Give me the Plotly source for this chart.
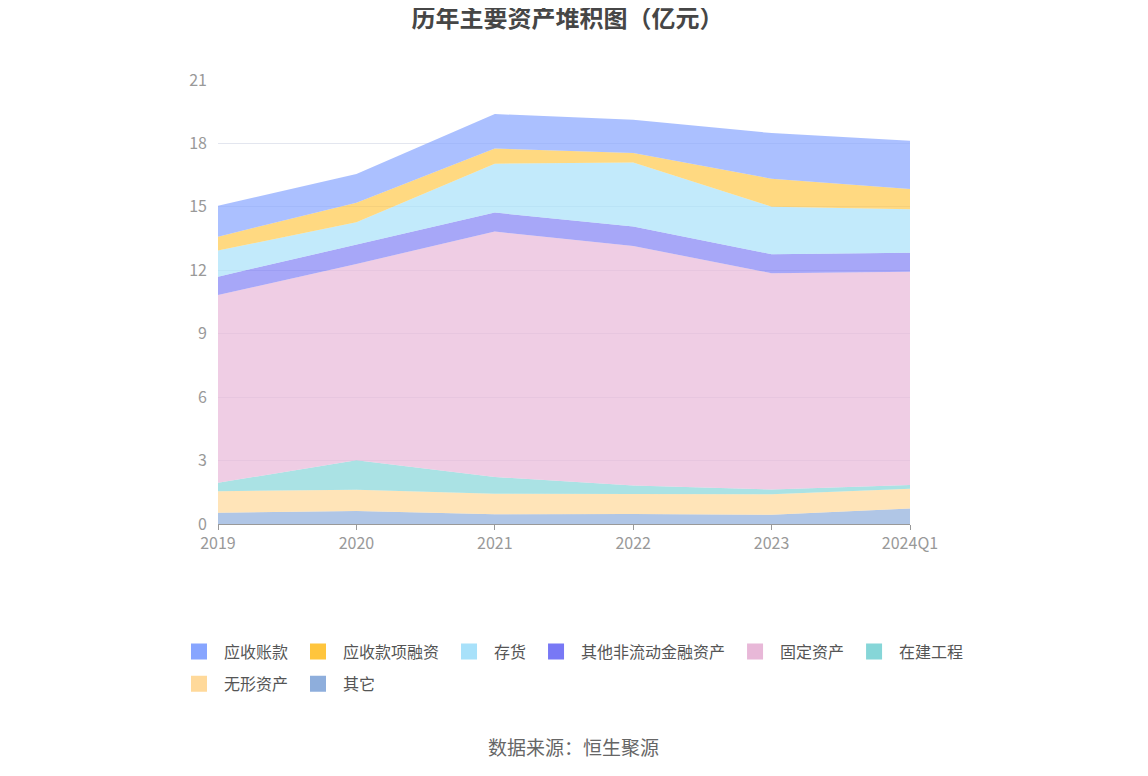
import plotly.graph_objects as go

# 年份
years = ['2019', '2020', '2021', '2022', '2023', '2024Q1']

# 各项资产（亿元），按堆叠顺序从下到上
qita = [0.53, 0.62, 0.46, 0.47, 0.44, 0.73]
wuxing = [1.02, 1.00, 0.97, 0.96, 0.97, 0.94]
zaijian = [0.40, 1.39, 0.79, 0.39, 0.22, 0.17]
guding = [8.88, 9.29, 11.61, 11.33, 10.23, 10.09]
qita_jinrong = [0.87, 0.90, 0.90, 0.92, 0.90, 0.90]
cunhuo = [1.23, 1.07, 2.31, 3.03, 2.25, 2.06]
rongzi = [0.66, 0.93, 0.72, 0.45, 1.32, 0.95]
yingshou = [1.46, 1.35, 1.63, 1.57, 2.16, 2.29]

# (名称, 数据, 填充色, 图例色)
series = [
    ('其它', qita, 'rgba(142,174,220,0.7)', '#8eaedc'),
    ('无形资产', wuxing, 'rgba(255,217,154,0.7)', '#ffd99a'),
    ('在建工程', zaijian, 'rgba(134,214,216,0.7)', '#86d6d8'),
    ('固定资产', guding, 'rgba(232,184,216,0.7)', '#e8b8d8'),
    ('其他非流动金融资产', qita_jinrong, 'rgba(120,120,245,0.65)', '#7878f5'),
    ('存货', cunhuo, 'rgba(168,225,250,0.7)', '#a8e1fa'),
    ('应收款项融资', rongzi, 'rgba(255,197,61,0.65)', '#ffc53d'),
    ('应收账款', yingshou, 'rgba(135,165,255,0.7)', '#87a5ff'),
]

fig = go.Figure()
for name, vals, color, lg in series:
    fig.add_trace(go.Scatter(
        x=years, y=vals, name=name, mode='lines',
        stackgroup='one', line=dict(width=0),
        fillcolor=color, showlegend=False, legendgroup=name,
    ))

# 图例用方块标记，分两行（前6项一行，后2项一行）
for i, (name, vals, color, lg) in enumerate(reversed(series)):
    fig.add_trace(go.Scatter(
        x=[None], y=[None], name=name, mode='markers', legendgroup=name,
        marker=dict(symbol='square', size=20, color=lg),
        legend='legend' if i < 6 else 'legend2',
    ))

legend_style = dict(orientation='h', traceorder='normal', xanchor='left',
                    yanchor='middle', font=dict(size=16, color='#555'),
                    bgcolor='rgba(0,0,0,0)', itemwidth=40)

fig.update_layout(
    width=1148,
    height=776,
    paper_bgcolor='white',
    plot_bgcolor='white',
    font=dict(family='Noto Sans CJK SC', color='#666'),
    margin=dict(l=210, r=246, t=72, b=260),
    title=dict(text='<b>历年主要资产堆积图（亿元）</b>', xref='paper', x=0.505,
               xanchor='center', y=0.986, yanchor='middle',
               font=dict(size=24, color='#464646')),
    showlegend=True,
    legend=dict(x=-0.0636, y=-0.2875, **legend_style),
    legend2=dict(x=-0.0636, y=-0.36, **legend_style),
    xaxis=dict(type='category', range=[0, 5], showgrid=False,
               showline=True, linecolor='#999', ticks='outside', ticklen=5,
               tickcolor='#999', tickfont=dict(size=16, color='#999')),
    yaxis=dict(range=[0, 21], tickvals=[0, 3, 6, 9, 12, 15, 18, 21],
               gridcolor='#e3e6ef', zeroline=False, ticklabelstandoff=10,
               tickfont=dict(size=16, color='#999')),
    annotations=[dict(text='数据来源：恒生聚源', x=0.5137, xref='paper', xanchor='center',
                      y=-0.5, yref='paper', yanchor='middle', showarrow=False,
                      font=dict(size=19, color='#666'))],
)

fig.write_html('out.html')
